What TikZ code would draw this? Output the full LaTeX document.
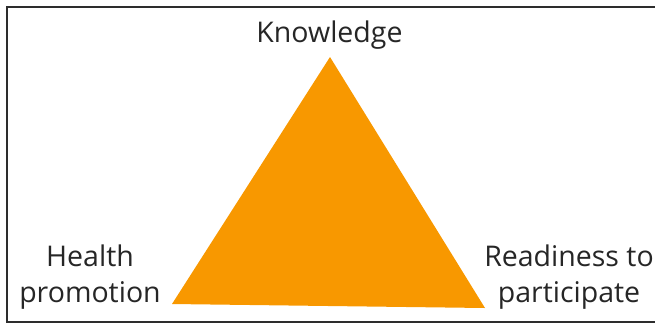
\documentclass[tikz,border=0pt]{standalone}
\usepackage{fontspec}
\setmainfont{Open Sans}
\definecolor{triorange}{RGB}{248,152,0}
\definecolor{framegray}{RGB}{45,45,45}
\tikzset{label/.style={font=\fontsize{28.5}{36}\selectfont, text=black!85, align=center, inner sep=0pt}}
\begin{document}
\begin{tikzpicture}[x=1pt,y=-1pt]
        \useasboundingbox (0,0) rectangle (655,325);
        \clip (0,0) rectangle (655,325);
        \draw[framegray, line width=2pt] (7,7) rectangle (680,322);
        \coordinate (top) at (330,57);
        \coordinate (left) at (172,304);
        \coordinate (right) at (485,308);
        \fill[triorange] (top) -- (left) -- (right) -- cycle;
        \node[label, anchor=base] (K) at (329.5,42) {Knowledge};
        \node[label, anchor=base] (H) at (90,302) {Health\\promotion};
        \node[label, anchor=base] (R) at (569,302) {Readiness to\\participate};
    \end{tikzpicture}
\end{document}
